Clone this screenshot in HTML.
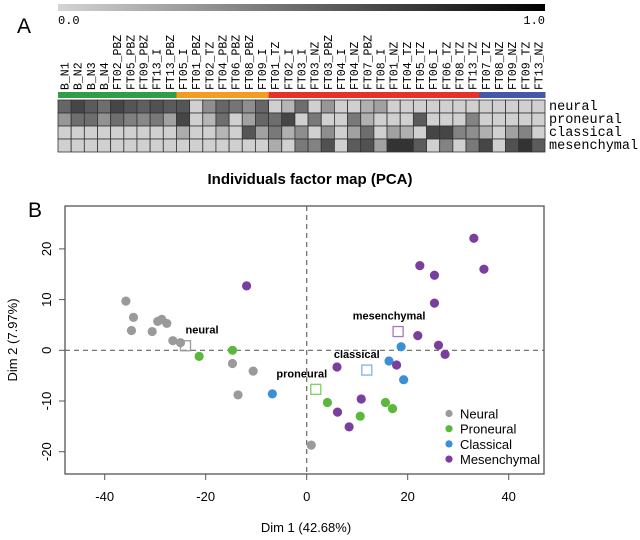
<!DOCTYPE html>
<html><head><meta charset="utf-8"><style>
body{margin:0;background:#fff;}
svg{display:block;font-family:"Liberation Sans",sans-serif;}
.mono{font-family:"Liberation Mono",monospace;}
</style></head><body>
<svg id="fig" width="640" height="540" viewBox="0 0 640 540">
<defs><linearGradient id="cb" x1="0" x2="1" y1="0" y2="0"><stop offset="0" stop-color="#d4d4d4"/><stop offset="1" stop-color="#000"/></linearGradient></defs>
<text x="17" y="33" font-size="21">A</text>
<rect x="58" y="4" width="487" height="7" fill="url(#cb)"/>
<text class="mono" x="58" y="24" font-size="12">0.0</text>
<text class="mono" x="545" y="24" font-size="12" text-anchor="end">1.0</text>
<g id="heat"></g>
<text x="28" y="217" font-size="21">B</text>
<text x="310" y="184" font-size="15" font-weight="bold" text-anchor="middle">Individuals factor map (PCA)</text>
<g id="pca"></g>
</svg>
<script>
const NS="http://www.w3.org/2000/svg";
// ---- heatmap data ----
const samples=["B_N1","B_N2","B_N3","B_N4","FT02_PBZ","FT05_PBZ","FT09_PBZ","FT13_I","FT13_PBZ","FT05_I","FT01_PBZ","FT02_TZ","FT04_PBZ","FT06_PBZ","FT08_PBZ","FT09_I","FT01_TZ","FT02_I","FT03_I","FT03_NZ","FT03_PBZ","FT04_I","FT04_NZ","FT07_PBZ","FT08_I","FT01_NZ","FT04_TZ","FT05_TZ","FT06_I","FT06_TZ","FT08_TZ","FT13_TZ","FT07_TZ","FT08_NZ","FT09_NZ","FT09_TZ","FT13_NZ"];
const groups=["green","green","green","green","green","green","green","green","green","orange","orange","orange","orange","orange","orange","orange","red","red","red","red","red","red","red","red","red","red","red","red","red","red","red","red","blue","blue","blue","blue","blue"];
const rowNames=["neural","proneural","classical","mesenchymal"];
const neuralVals=[0.52,0.67,0.57,0.48,0.67,0.6,0.55,0.62,0.57,0.6,0.02,0.33,0.52,0.45,0.33,0.52,0.02,0.14,0.48,0.02,0.29,0.02,0.02,0.17,0.24,0.02,0.02,0.02,0.02,0.02,0.02,0.02,0.02,0.02,0.02,0.02,0.02];
const proneuralVals=[0.29,0.48,0.48,0.31,0.48,0.4,0.36,0.43,0.24,0.67,0.02,0.14,0.48,0.02,0.24,0.52,0.48,0.67,0.02,0.43,0.02,0.02,0.43,0.17,0.02,0.02,0.02,0.57,0.02,0.02,0.02,0.38,0.02,0.02,0.02,0.02,0.02];
const classicalVals=[0.02,0.02,0.02,0.02,0.02,0.02,0.02,0.02,0.02,0.19,0.02,0.02,0.14,0.02,0.6,0.24,0.43,0.17,0.33,0.02,0.33,0.02,0.24,0.48,0.02,0.24,0.17,0.02,0.67,0.67,0.38,0.33,0.17,0.02,0.24,0.38,0.02];
const mesenchymalVals=[0.02,0.02,0.02,0.02,0.02,0.02,0.02,0.02,0.02,0.02,0.02,0.02,0.02,0.02,0.02,0.02,0.19,0.02,0.43,0.38,0.62,0.02,0.57,0.62,0.24,0.76,0.76,0.57,0.02,0.38,0.02,0.43,0.67,0.02,0.62,0.76,0.57];
const groupColor={green:"#2f9e44",orange:"#f39c1f",red:"#e8302a",blue:"#4557a8"};
const hx0=58,cw=487/37,hy0=100,rh=13;
const heat=document.getElementById("heat");
function mk(tag,attrs,parent){const e=document.createElementNS(NS,tag);for(const k in attrs)e.setAttribute(k,attrs[k]);parent.appendChild(e);return e;}
const allRows=[neuralVals,proneuralVals,classicalVals,mesenchymalVals];
samples.forEach((s,i)=>{
  const cx=hx0+i*cw+cw/2;
  const t=mk("text",{x:0,y:0,"font-size":"11.5",class:"mono",transform:`translate(${cx+4},90) rotate(-90)`},heat);
  
  
  t.textContent=s;
  const st=mk("rect",{x:hx0+i*cw,y:92,width:cw+0.5,height:6,fill:groupColor[groups[i]]},heat);
  
  
  allRows.forEach((row,r)=>{
    const g=Math.round(212-212*row[i]);
    const c=mk("rect",{x:hx0+i*cw,y:hy0+r*rh,width:cw,height:rh,fill:`rgb(${g},${g},${g})`,stroke:"#333","stroke-width":"0.8"},heat);
    
    
  });
});
rowNames.forEach((n,r)=>{
  const t=mk("text",{x:549,y:hy0+r*rh+10,"font-size":"13.5",class:"mono"},heat);
  
  
  t.textContent=n;
});
// ---- PCA data ----
const neuralX=[-35.8,-34.3,-34.7,-30.6,-29.5,-28.7,-27.7,-26.5,-25,-14.7,-10.6,-13.6,0.9];
const neuralY=[9.7,6.5,3.9,3.7,5.7,6.1,5.3,1.9,1.5,-2.6,-4.1,-8.8,-18.7];
const proneuralX=[-21.3,-14.7,4.1,10.6,15.6,17.0];
const proneuralY=[-1.2,0,-10.3,-13.0,-10.3,-11.5];
const classicalX=[-6.8,18.7,16.3,19.2];
const classicalY=[-8.6,0.7,-2.1,-5.8];
const mesenchymalX=[-11.9,33.1,35.1,22.4,25.3,25.3,22.0,26.1,27.4,17.8,6.0,10.8,6.1,8.4];
const mesenchymalY=[12.7,22.1,16.0,16.7,14.8,9.3,2.9,1.0,-0.8,-2.9,-3.3,-9.6,-12.2,-15.1];
const centroidNames=["neural","proneural","classical","mesenchymal"];
const centroidX=[-24,1.8,11.9,18.1];
const centroidY=[0.9,-7.7,-3.9,3.7];
const xTicks=[-40,-20,0,20,40];
const yTicks=[-20,-10,0,10,20];
const colors=["#9a9a9a","#5cb83c","#3b8fd4","#7a3f9d"];
const legendNames=["Neural","Proneural","Classical","Mesenchymal"];
const L=65,R=544,T=206,B=474;
const sx=v=>306.7+v*5.05, sy=v=>350.3-v*5.07;
const p=document.getElementById("pca");
let e;
e=mk("rect",{x:L,y:T,width:R-L,height:B-T,fill:"none",stroke:"#555","stroke-width":"1.3"},p);

e=mk("line",{x1:sx(0),x2:sx(0),y1:T,y2:B,stroke:"#666","stroke-dasharray":"5,4","stroke-width":"1.2"},p);

e=mk("line",{x1:L,x2:R,y1:sy(0),y2:sy(0),stroke:"#666","stroke-dasharray":"5,4","stroke-width":"1.2"},p);

xTicks.forEach(v=>{
  e=mk("line",{x1:sx(v),x2:sx(v),y1:B,y2:B+6,stroke:"#555"},p);
  
  e=mk("text",{x:sx(v),y:B+27,"font-size":"13","text-anchor":"middle"},p);
  
  e.textContent=v;
});
yTicks.forEach(v=>{
  e=mk("line",{x1:L-6,x2:L,y1:sy(v),y2:sy(v),stroke:"#555"},p);
  
  e=mk("text",{x:0,y:0,"font-size":"13","text-anchor":"middle",transform:`translate(${L-14},${sy(v)}) rotate(-90)`},p);
  
  e.textContent=v;
});
e=mk("text",{x:306,y:532,"font-size":"13","text-anchor":"middle"},p);

e.textContent="Dim 1 (42.68%)";
e=mk("text",{x:0,y:0,"font-size":"13","text-anchor":"middle",transform:"translate(17,340) rotate(-90)"},p);

e.textContent="Dim 2 (7.97%)";
const sets=[[neuralX,neuralY],[proneuralX,proneuralY],[classicalX,classicalY],[mesenchymalX,mesenchymalY]];
sets.forEach(([xs,ys],k)=>{
  xs.forEach((x,i)=>{
    e=mk("circle",{cx:sx(x),cy:sy(ys[i]),r:4.6,fill:colors[k]},p);
    
    
  });
});
centroidNames.forEach((n,k)=>{
  e=mk("rect",{x:sx(centroidX[k])-5,y:sy(centroidY[k])-5,width:10,height:10,fill:"none",stroke:["#999","#7fd160","#7fb3e6","#a877c0"][k],"stroke-width":"1.3"},p);
  
  e=mk("text",{x:sx(centroidX[k]),y:sy(centroidY[k])-12,"font-size":"11","font-weight":"bold","text-anchor":"start"},p);
  if(k>0){e.setAttribute("text-anchor","middle");e.setAttribute("x",sx(centroidX[k])+[0,-14,-10,-9][k]);}
  
  e.textContent=n;
});
legendNames.forEach((n,k)=>{
  e=mk("circle",{cx:449,cy:413.5+k*15.2,r:3.6,fill:colors[k]},p);
  
  e=mk("text",{x:460,y:418.5+k*15.2,"font-size":"13"},p);
  
  e.textContent=n;
});
</script>
</body></html>
